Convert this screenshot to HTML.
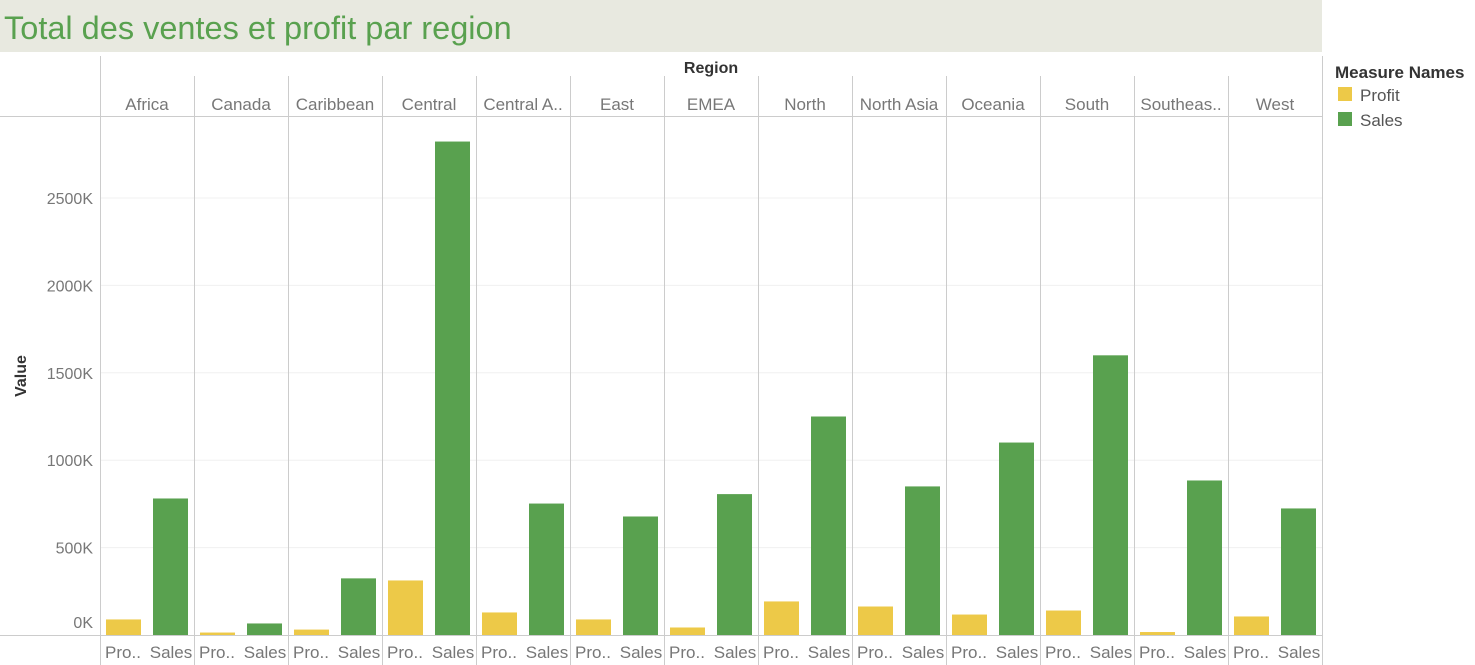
<!DOCTYPE html>
<html><head><meta charset="utf-8"><style>
body{margin:0;width:1475px;height:665px;background:#fff;font-family:"Liberation Sans",sans-serif;position:relative;overflow:hidden}
svg{position:absolute;left:0;top:0}
</style></head><body>
<svg width="1475" height="665" id="c">
<rect x="0" y="0" width="1322" height="52" fill="#e8e9e0"/>
<text x="4" y="39" font-size="32.5" fill="#59a14f">Total des ventes et profit par region</text>
<text x="711" y="73" font-size="16" font-weight="bold" fill="#333" text-anchor="middle">Region</text>
<text x="26" y="376" font-size="16" font-weight="bold" fill="#333" text-anchor="middle" transform="rotate(-90 26 376)">Value</text>
<text x="1335" y="78" font-size="17" font-weight="bold" fill="#333">Measure Names</text>
<g><rect x="1338" y="87" width="14" height="14" fill="#edc948"/><text x="1360" y="101" font-size="17" fill="#555">Profit</text></g>
<g><rect x="1338" y="112" width="14" height="14" fill="#59a14f"/><text x="1360" y="126" font-size="17" fill="#555">Sales</text></g>
<g id="plot"></g>
</svg>
<script>
const regions=["Africa","Canada","Caribbean","Central","Central A..","East","EMEA","North","North Asia","Oceania","South","Southeas..","West"];
const profit=[89,14,31,312,129,89,43,192,163,117,140,17,106];
const sales=[781,66,324,2823,752,678,806,1250,850,1101,1600,884,724];
const ticks=[0,500,1000,1500,2000,2500];
const tickLabels=["0K","500K","1000K","1500K","2000K","2500K"];
const NS="http://www.w3.org/2000/svg",g=document.getElementById('plot');
const x0=100,pw=94,y0=635,k=87.4/500;
const y=v=>y0-v*k;
function el(t,a,txt){const e=document.createElementNS(NS,t);for(const n in a)e.setAttribute(n,a[n]);if(txt!=null)e.textContent=txt;g.appendChild(e);return e;}
ticks.forEach((t,i)=>{
 if(t>0){const l=el('line',{x1:100,x2:1322,y1:y(t),y2:y(t),stroke:'#f0f0f0'});
 
 }
 const ty=t===0?y(t)-7:y(t)+6;
 const tx=el('text',{x:93,y:ty,'font-size':16,fill:'#777','text-anchor':'end'},tickLabels[i]);
 
 
});
el('line',{x1:0,x2:1322,y1:116.5,y2:116.5,stroke:'#ccc'});
el('line',{x1:0,x2:1322,y1:635.5,y2:635.5,stroke:'#ccc'});
for(let i=0;i<=regions.length;i++){const xx=x0+i*pw+0.5;el('line',{x1:xx,x2:xx,y1:i==0||i==regions.length?56:76,y2:665,stroke:'#ccc'});}
regions.forEach((r,i)=>{
 const px=x0+i*pw;
 const h=el('text',{x:px+47,y:110,'font-size':17,fill:'#777','text-anchor':'middle'},r);
 
 
 const b1=el('rect',{x:px+6,y:y(profit[i]),width:35,height:profit[i]*k,fill:'#edc948'});
 
 
 const b2=el('rect',{x:px+53,y:y(sales[i]),width:35,height:sales[i]*k,fill:'#59a14f'});
 
 
 const l1=el('text',{x:px+23,y:658,'font-size':17,fill:'#777','text-anchor':'middle'},'Pro..');
 
 
 const l2=el('text',{x:px+71,y:658,'font-size':17,fill:'#777','text-anchor':'middle'},'Sales');
 
 
});
</script>
</body></html>
